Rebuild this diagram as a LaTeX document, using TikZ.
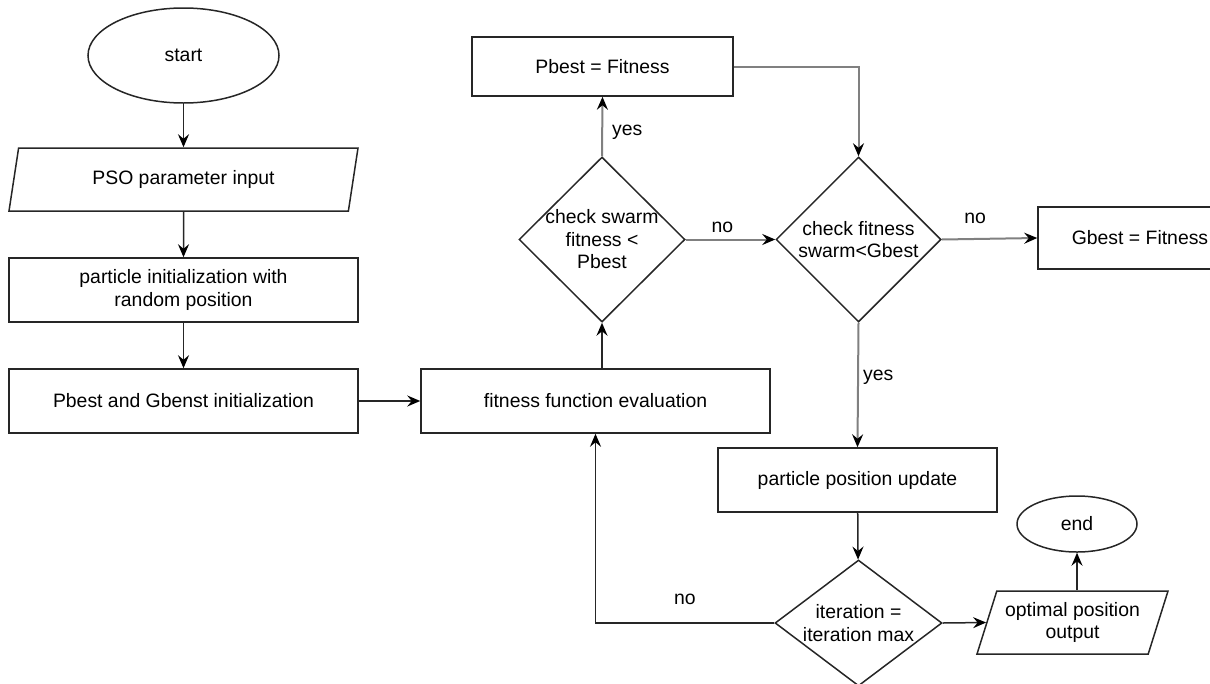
\documentclass[tikz,border=0pt]{standalone}
\usepackage{fontspec}
\setmainfont{Liberation Sans}
\usetikzlibrary{shapes.geometric,arrows.meta,calc}

\begin{document}
\begin{tikzpicture}[x=1pt,y=-1pt,font=\fontsize{19.4}{22.5}\selectfont]

\tikzset{terminal/.style={shape=ellipse,draw=black!85,line width=1.5pt,inner sep=0pt},
process/.style={shape=rectangle,draw=black!85,line width=1.5pt,inner sep=0pt,minimum height=64pt,align=center},
io/.style={shape=trapezium,draw=black!85,line width=1.5pt,inner sep=0pt,trapezium stretches body,minimum height=63pt,align=center},
decision/.style={shape=diamond,draw=black!85,line width=1.5pt,inner sep=-8pt,align=center},
flow/.style={draw=black!85,line width=1.5pt,-{Stealth[length=13pt,width=11pt,inset=4.5pt,black]}},
greyflow/.style={flow,draw=black!50,line width=2pt},
answer/.style={inner sep=2pt}}

% Frame
\useasboundingbox (0,0) rectangle (1210,683);
\clip (0,0) rectangle (1210,683);

% Left column
\node[terminal,minimum width=191pt,minimum height=95pt] (start) at (183.5,55.5) {start};
\node[io,minimum width=349pt,trapezium left angle=62,trapezium right angle=118] (param) at (183.5,179.5) {PSO parameter input};
\node[process,minimum width=349pt] (init) at (183.5,290) {particle initialization with\\random position};
\node[process,minimum width=349pt] (pbinit) at (183.5,401) {Pbest and Gbenst initialization};

% Fitness loop
\node[process,minimum width=349pt] (fitness) at (595.5,401) {fitness function evaluation};
\node[decision,minimum width=166pt,minimum height=165pt] (d1) at (602,239.5) {check swarm\\fitness <\\Pbest};
\node[process,minimum width=261pt,minimum height=59pt] (pbest) at (602.5,66.5) {Pbest = Fitness};
\node[decision,minimum width=165pt,minimum height=165pt] (d2) at (858.5,239.5) {check fitness\\swarm<Gbest};
\node[process,minimum width=204pt,minimum height=62pt] (gbest) at (1140,238) {Gbest = Fitness};

% Update and stop
\node[process,minimum width=279pt] (update) at (857.5,480) {particle position update};
\node[decision,minimum width=167pt,minimum height=126pt] (d3) at (858.5,623) {iteration =\\iteration max};
\node[io,minimum width=191pt,trapezium left angle=64,trapezium right angle=116] (output) at (1072.5,622.5) {optimal position\\output};
\node[terminal,minimum width=120pt,minimum height=56pt] (end) at (1077,524) {end};

% Edges
\draw[flow] (start) -- (param);
\draw[flow] (param) -- (init);
\draw[flow] (init) -- (pbinit);
\draw[flow] (pbinit) -- (fitness);
\draw[flow] (d1.south |- fitness.north) -- (d1.south);
\draw[greyflow] (d1.north) -- node[answer,pos=.4,right=7pt] {yes} (pbest.south);
\draw[greyflow] (d1.east) -- node[answer,pos=.41,above=4pt] {no} (d2.west);
\draw[greyflow] (pbest.east) -| (d2.north);
\draw[greyflow] (d2.east) -- node[answer,pos=.35,above=12pt] {no} (gbest.west);
\draw[greyflow] (d2.south) -- node[answer,pos=.44,right=2pt] {yes} (update.north);
\draw[flow] (update) -- (d3);
\draw[flow] (d3.west) -| node[answer,pos=.25,above=16pt] {no} (fitness.south);
\draw[flow] (d3.east) -- (output.west);
\draw[flow] (end.south |- output.north) -- (end.south);

\end{tikzpicture}
\end{document}
